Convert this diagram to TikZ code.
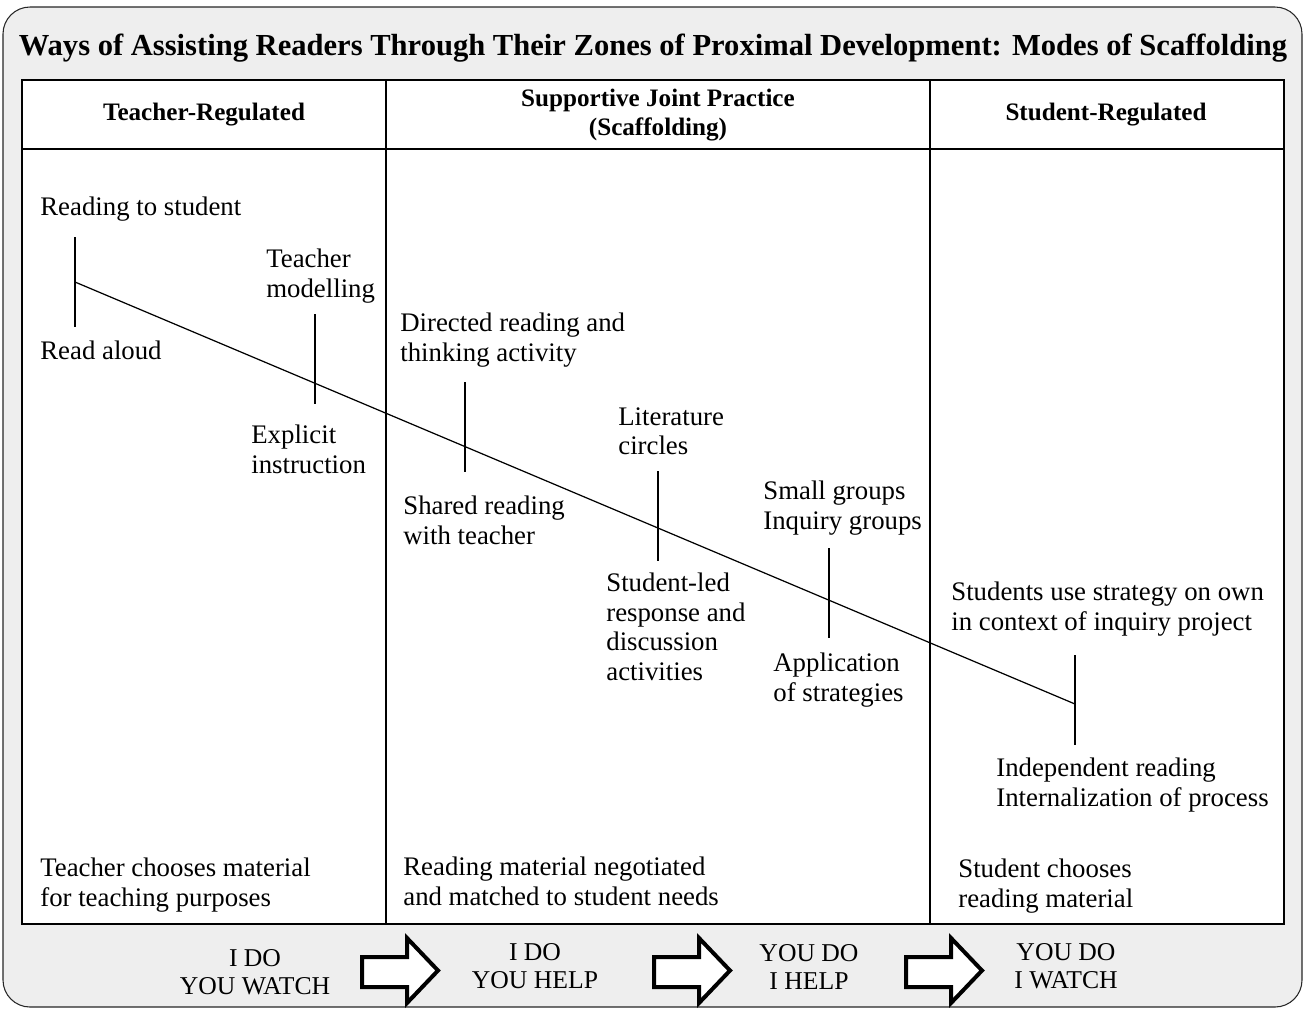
\documentclass[tikz,border=0pt]{standalone}
\usepackage{fontspec}
\setmainfont{Liberation Serif}

\begin{document}
\begin{tikzpicture}[x=0.02cm, y=-0.02cm,
    lbl/.style={anchor=north west, inner sep=0pt, align=left, font=\fontsize{15.25pt}{16.8pt}\selectfont},
    colhead/.style={align=center, inner sep=0pt, font=\bfseries\fontsize{14.3pt}{16pt}\selectfont},
    motto/.style={align=center, inner sep=0pt, font=\fontsize{14.6pt}{16pt}\selectfont},
    tick/.style={line width=0.7pt},
    handoff/.style={draw=black, fill=white, line width=0.08cm, miter limit=10}]
  \useasboundingbox (0,0) rectangle (1304,1009);
  \filldraw[fill=gray!13, draw=black!85, line width=0.6pt, rounded corners=0.54cm] (3,7) rectangle (1302,1007);
  \node[inner sep=0pt, font=\bfseries\fontsize{17.4pt}{20pt}\selectfont] (ttl) at (653,48) {Ways of Assisting Readers Through Their Zones of Proximal Development: Modes of Scaffolding};

  \filldraw[fill=white, draw=black, line width=0.9pt] (22,80) rectangle (1284,924);
  \draw[line width=0.9pt] (22,149) -- (1284,149);
  \draw[line width=0.9pt] (386,80) -- (386,924);
  \draw[line width=0.9pt] (930,80) -- (930,924);
  \node[colhead] (teacherreg) at (204,115) {Teacher-Regulated};
  \node[colhead] (jointprac) at (658,115) {Supportive Joint Practice\\(Scaffolding)};
  \node[colhead] (studentreg) at (1106,115) {Student-Regulated};

  \coordinate (slopestart) at (75,282);
  \coordinate (slopeend) at (1075,704);
  \draw[tick] (slopestart) -- (slopeend);
  \foreach \x/\ya/\yb [count=\i] in {75/237/327, 315/314/404, 465/382/472, 658/471/561, 829/548/638, 1075/655/745} {
    \coordinate (tick\i top) at (\x,\ya);
    \coordinate (tick\i bot) at (\x,\yb);
    \draw[tick] (tick\i top) -- (tick\i bot);
  }

  \node[lbl] (readto) at (40,197) {Reading to student};
  \node[lbl] (readaloud) at (40,341) {Read aloud};
  \node[lbl] (modelling) at (266,249) {Teacher\\modelling};
  \node[lbl] (explicit) at (251,425) {Explicit\\instruction};
  \node[lbl] (directed) at (400,313) {Directed reading and\\thinking activity};
  \node[lbl] (shared) at (403,496) {Shared reading\\with teacher};
  \node[lbl] (litcircles) at (618,407) {Literature\\circles};
  \node[lbl] (studentled) at (606,573) {Student-led\\response and\\discussion\\activities};
  \node[lbl] (smallgroups) at (763,481) {Small groups\\Inquiry groups};
  \node[lbl] (application) at (773,653) {Application\\of strategies};
  \node[lbl] (ownstrategy) at (951,582) {Students use strategy on own\\in context of inquiry project};
  \node[lbl] (independent) at (996,758) {Independent reading\\Internalization of process};
  \node[lbl] (teachermat) at (40,858) {Teacher chooses material\\for teaching purposes};
  \node[lbl] (negotiated) at (403,857) {Reading material negotiated\\and matched to student needs};
  \node[lbl] (studentmat) at (958,859) {Student chooses\\reading material};

  \node[motto] (iwatchyou) at (255,972) {I DO\\YOU WATCH};
  \node[motto] (ihelpyou) at (535,966) {I DO\\YOU HELP};
  \node[motto] (youihelp) at (809,967) {YOU DO\\I HELP};
  \node[motto] (youiwatch) at (1066,966) {YOU DO\\I WATCH};

  \foreach \dx in {0,292,544} {
    \draw[handoff] (362+\dx,957) -- (407+\dx,957) -- (407+\dx,938) -- (438+\dx,970.5)
      -- (407+\dx,1003) -- (407+\dx,987) -- (362+\dx,987) -- cycle;
  }
\end{tikzpicture}
\end{document}
